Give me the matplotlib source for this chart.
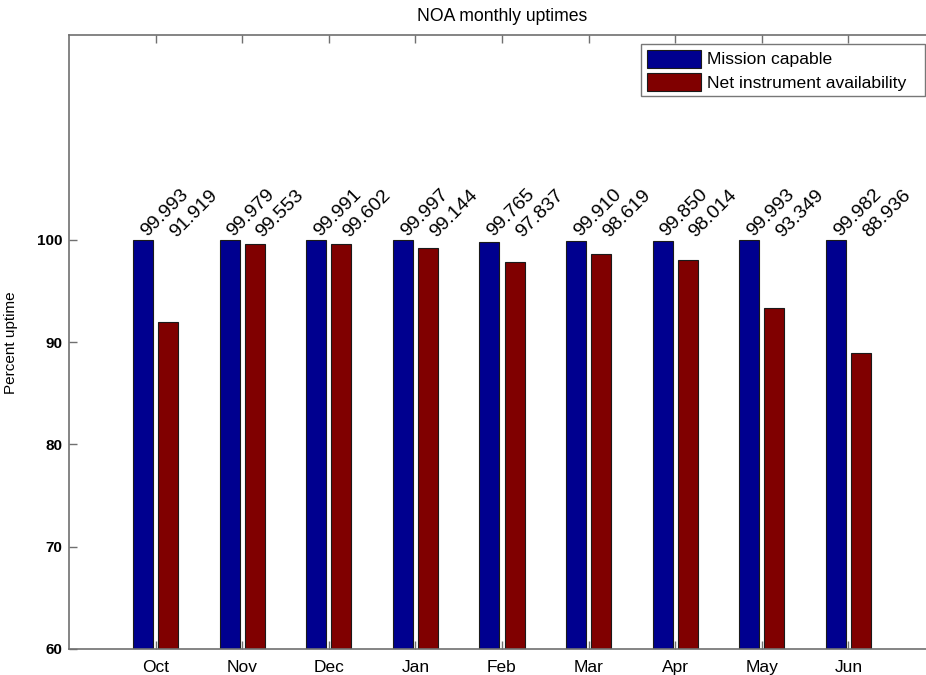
import matplotlib
matplotlib.use("Agg")
import matplotlib.pyplot as plt
import numpy as np

months = ["Oct", "Nov", "Dec", "Jan", "Feb", "Mar", "Apr", "May", "Jun"]
mission_capable = [99.993, 99.979, 99.991, 99.997, 99.765, 99.910, 99.850, 99.993, 99.982]
net_availability = [91.919, 99.553, 99.602, 99.144, 97.837, 98.619, 98.014, 93.349, 88.936]
series_names = ["Mission capable", "Net instrument availability"]
yticks = [60, 70, 80, 90, 100]

plt.rcParams['font.family'] = ['Liberation Sans', 'DejaVu Sans']

fig = plt.figure(figsize=(9.26, 6.75), dpi=100)
ax_l, ax_r, ax_t, ax_b = 69, 935, 35, 649
ax = fig.add_axes([ax_l/926, 1 - ax_b/675, (ax_r - ax_l)/926, (ax_b - ax_t)/675])

x = np.arange(1, len(months) + 1)
off = 0.145
w = 0.23
blue = (0, 0, 0.5625)
red = (0.5, 0, 0)
ax.bar(x - off, mission_capable, w, color=blue, edgecolor='#1a1a1a', linewidth=0.8,
       label=series_names[0], zorder=2)
ax.bar(x + off, net_availability, w, color=red, edgecolor='#1a1a1a', linewidth=0.8,
       label=series_names[1], zorder=2)

for xi, a, b in zip(x, mission_capable, net_availability):
    ax.text(xi - 0.1, 100.3, f"{a:.3f}", rotation=45, rotation_mode='anchor',
            ha='left', va='baseline', fontsize=14, zorder=3)
    ax.text(xi + 0.235, 100.2, f"{b:.3f}", rotation=45, rotation_mode='anchor',
            ha='left', va='baseline', fontsize=14, zorder=3)

ax.set_xlim(0, 10)
ax.set_ylim(60, 120)
ax.set_xticks(x)
ax.set_xticklabels(months, fontsize=12.5)
ax.set_yticks(yticks)
ax.set_yticklabels([str(t) for t in yticks], fontsize=11, fontweight='bold')
ax.tick_params(direction='in', length=6, width=1, color='#707070',
               top=True, right=True, pad=5)
ax.tick_params(axis='x', pad=8)
for s in ax.spines.values():
    s.set_color('#707070')
    s.set_linewidth(1.2)

ax.set_ylabel("Percent uptime", fontsize=11)
ax.yaxis.set_label_coords((18 - ax_l) / (ax_r - ax_l), (ax_b - 343) / (ax_b - ax_t))
ax.set_title("NOA monthly uptimes", fontsize=12.7, pad=10)

x0 = (641 - ax_l) / (ax_r - ax_l)
wl = (925 - 641) / (ax_r - ax_l)
ytop = (ax_b - 44) / (ax_b - ax_t)
leg = ax.legend(loc='upper left', bbox_to_anchor=(x0, ytop - 0.1, wl, 0.1), mode='expand',
                fontsize=12.6, frameon=True, fancybox=False, handlelength=3.1, handleheight=1.2,
                handletextpad=0.35, borderpad=0.32, labelspacing=0.3, borderaxespad=0)
leg.get_frame().set_edgecolor('#555555')
leg.get_frame().set_linewidth(1.0)

fig.savefig("out.png", dpi=100)
